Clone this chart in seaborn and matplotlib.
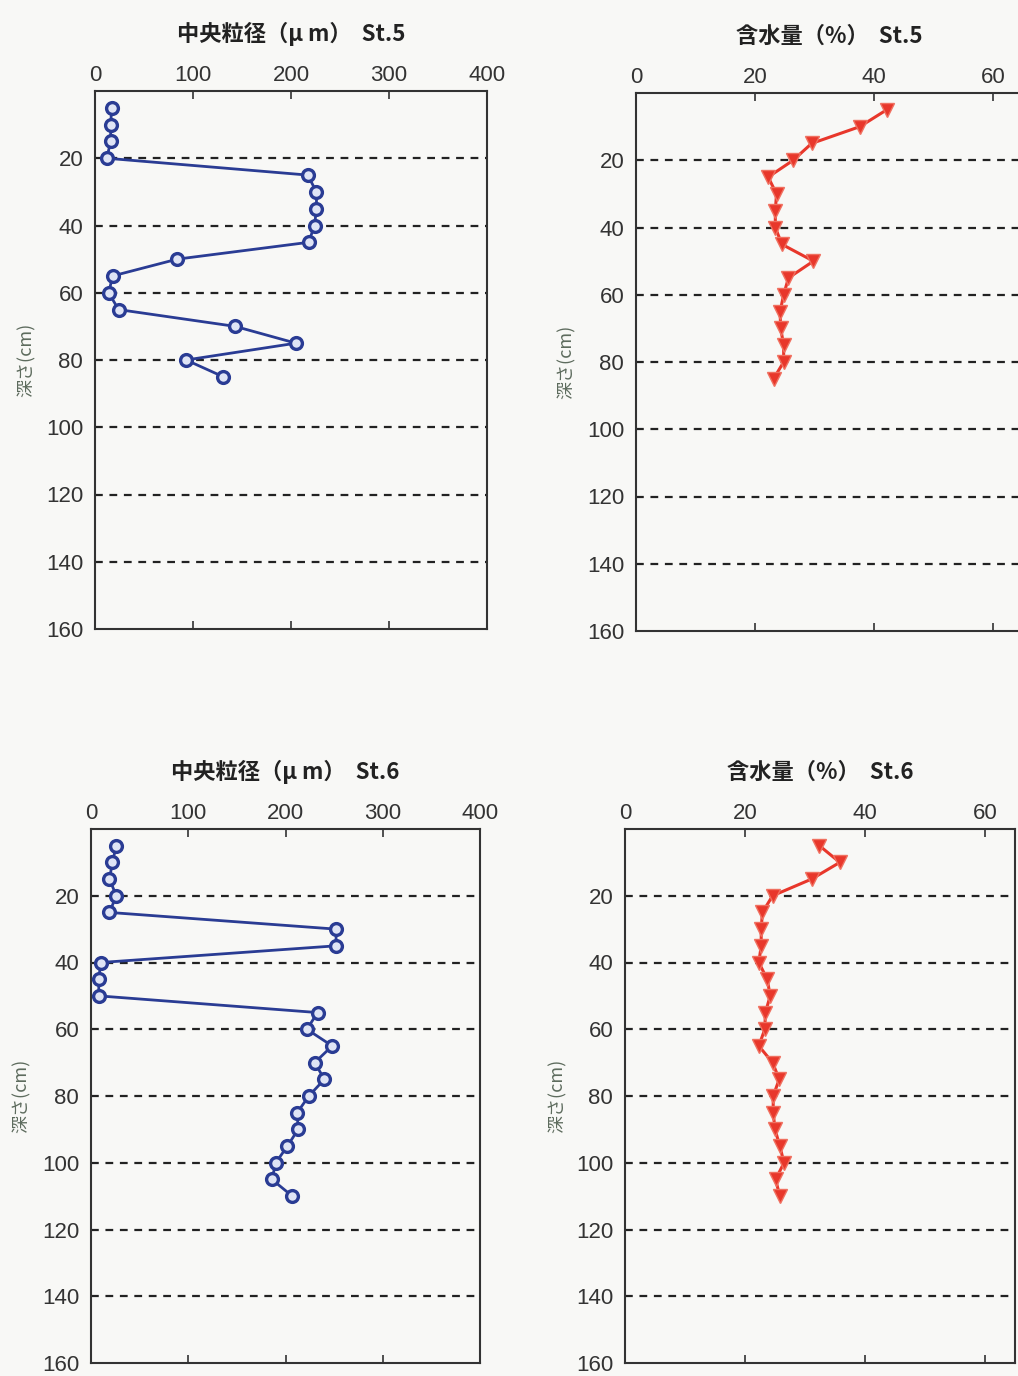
import numpy as np
import pandas as pd
import matplotlib
matplotlib.use("Agg")
import matplotlib.pyplot as plt
import seaborn as sns

# depth (cm) and values
depth_st5 = [5, 10, 15, 20, 25, 30, 35, 40, 45, 50, 55, 60, 65, 70, 75, 80, 85]
grain_st5 = [17, 16, 16, 12, 217, 226, 226, 224, 218, 84, 18, 14, 24, 143, 205, 93, 131]
water_st5 = [42.1, 37.6, 29.5, 26.4, 22.2, 23.6, 23.4, 23.4, 24.5, 29.8, 25.6, 24.8,
             24.2, 24.3, 24.8, 24.8, 23.1]

depth_st6 = [5, 10, 15, 20, 25, 30, 35, 40, 45, 50, 55, 60, 65, 70, 75, 80, 85, 90,
             95, 100, 105, 110]
grain_st6 = [26, 22, 19, 26, 19, 252, 252, 10, 8, 8, 233, 222, 248, 230, 240, 224,
             212, 213, 202, 190, 186, 207]
water_st6 = [32.4, 35.8, 31.1, 24.6, 22.9, 22.7, 22.7, 22.3, 23.7, 24.2, 23.4, 23.3,
             22.3, 24.6, 25.7, 24.7, 24.7, 25.0, 25.8, 26.5, 25.1, 25.8]

grain_ticks = [0, 100, 200, 300, 400]
water_ticks = [0, 20, 40, 60]
depth_ticks = [20, 40, 60, 80, 100, 120, 140, 160]

sns.set_style("white")
plt.rcParams["font.family"] = ["Liberation Sans", "DejaVu Sans"]
cjk = ["Noto Sans CJK JP", "DejaVu Sans"]

bg = "#f8f8f6"
fig = plt.figure(figsize=(10.18, 13.76), dpi=100, facecolor=bg)
W, H = 1018, 1376


def make_ax(left, top, right, bottom):
    return fig.add_axes([left / W, 1 - bottom / H, (right - left) / W, (bottom - top) / H])


def style(ax, xmax, xticks, title, label_x):
    ax.set_facecolor(bg)
    ax.set_xlim(0, xmax)
    ax.set_ylim(160, 0)
    ax.set_xticks(xticks)
    ax.set_yticks(depth_ticks)
    ax.xaxis.tick_top()
    ax.tick_params(axis="x", top=True, bottom=True, labeltop=True, labelbottom=False,
                   direction="in", length=6, width=1.2, color="#333333",
                   labelsize=16, labelcolor="#333333", pad=3.5)
    ax.tick_params(axis="y", left=False, labelsize=16, labelcolor="#333333", pad=5)
    for y in depth_ticks[:-1]:
        ax.axhline(y, color="#222222", lw=1.6, ls=(0, (3.5, 3)), zorder=1)
    for s in ax.spines.values():
        s.set_color("#333333")
        s.set_linewidth(1.5)
    ax.set_xlabel("")
    ax.set_ylabel("深さ(cm)", family=cjk, fontsize=13, color="#5d6b5d")
    ax.yaxis.set_label_coords(label_x, 0.5)
    ax.set_title(title, family=cjk, fontsize=16, fontweight="bold", color="#222222", pad=36)


def grain_plot(ax, x, y):
    df = pd.DataFrame({"grain": x, "depth": y})
    sns.lineplot(data=df, x="grain", y="depth", ax=ax, sort=False, estimator=None,
                 orient="y", color="#2a3c94", lw=2, marker="o", markersize=8.5,
                 markerfacecolor="#dfe4f5", markeredgecolor="#2a3c94",
                 markeredgewidth=2.4, zorder=3)


def water_plot(ax, x, y):
    df = pd.DataFrame({"water": x, "depth": y})
    sns.lineplot(data=df, x="water", y="depth", ax=ax, sort=False, estimator=None,
                 orient="y", color="#e8372b", lw=2.2, marker="v", markersize=10,
                 markerfacecolor="#e8372b", markeredgecolor="#f07060",
                 markeredgewidth=1, zorder=3)


ax1 = make_ax(95, 91, 487, 629)
grain_plot(ax1, grain_st5, depth_st5)
style(ax1, 400, grain_ticks, "中央粒径（μ m）  St.5", -0.15)

ax2 = make_ax(636, 93, 1023, 631)
water_plot(ax2, water_st5, depth_st5)
style(ax2, 65, water_ticks, "含水量（%）  St.5", -0.155)

ax3 = make_ax(91, 829, 480, 1363)
grain_plot(ax3, grain_st6, depth_st6)
style(ax3, 400, grain_ticks, "中央粒径（μ m）  St.6", -0.155)

ax4 = make_ax(625, 829, 1015, 1363)
water_plot(ax4, water_st6, depth_st6)
style(ax4, 65, water_ticks, "含水量（%）  St.6", -0.15)

fig.savefig("out.png", dpi=100, facecolor=bg)
